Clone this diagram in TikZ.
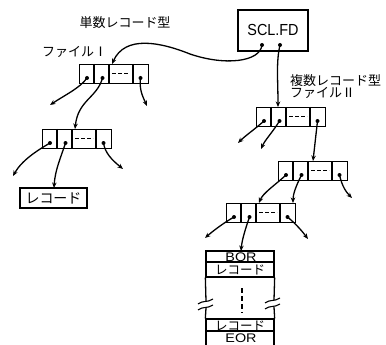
\documentclass[tikz,border=0pt]{standalone}
\usepackage{fontspec}
\newfontfamily\jp{Noto Sans CJK JP}
\newfontfamily\lat{Liberation Sans}
\usetikzlibrary{arrows.meta,calc}
\tikzset{
  lab/.style={font=\jp\fontsize{13}{13}\selectfont, inner sep=0},
  rectext/.style={font=\jp\fontsize{14}{14}\selectfont, inner sep=0},
  stacktext/.style={font=\jp\fontsize{12.5}{12.5}\selectfont, inner sep=0},
  con/.style={-{Stealth[length=5.5pt,width=4.5pt]}, line width=1.3pt},
  dotn/.style={circle, fill, inner sep=0, minimum size=4pt},
  cellbox/.style={draw, line width=1.4pt, inner sep=0, minimum width=69pt, minimum height=19pt, anchor=north west},
  rowbox/.style={draw, line width=1.3pt, inner sep=0, minimum width=68pt},
  recbox/.pic={
    \node[cellbox] (-box) at (0,0) {};
    \draw[line width=1.3pt] (15,0)--(15,19) (30,0)--(30,19) (54,0)--(54,19);
    \draw[line width=1.1pt, dash pattern=on 3.5pt off 2.5pt] (33,9.5)--(51,9.5);
    \node[dotn] (-d1) at (8,14) {};
    \node[dotn] (-d2) at (23.5,14) {};
    \node[dotn] (-d4) at (61.5,14) {};
  }
}
\begin{document}
\begin{tikzpicture}[x=1pt,y=-1pt]
\useasboundingbox (0,0) rectangle (386,345);
\clip (0,0) rectangle (386,345);

% labels
\node[lab] (t1) at (125,23) {単数レコード型};
\node[lab, anchor=west] (t2) at (42,52) {ファイルⅠ};
\node[lab, anchor=west] (t3) at (290,81) {複数レコード型};
\node[lab, anchor=west] (t4) at (290,93) {ファイルⅡ};

% SCL.FD
\node[draw, line width=1.4pt, minimum width=70pt, minimum height=41pt, inner sep=0] (S) at (273,30.5) {};
\node[inner sep=0, font=\lat\fontsize{16}{16}\selectfont] (St) at (273,30) {\scalebox{0.9}[1]{SCL.FD}};
\node[dotn] (Sd1) at (262,45) {};
\node[dotn] (Sd2) at (280,45) {};

% record boxes
\pic (A) at (79,64) {recbox};
\pic (B) at (42,129) {recbox};
\pic (C) at (256,107) {recbox};
\pic (D) at (278,161) {recbox};
\pic (E) at (226,203) {recbox};

% single record
\node[draw, line width=1.4pt, minimum width=67pt, minimum height=20pt, inner sep=0, rectext] (R) at (53.5,198) {レコード};

% stack
\node[rowbox, minimum height=11pt] (bor) at (240,256.5) {};
\node[inner sep=0, font=\lat\fontsize{12.5}{12.5}\selectfont] at (241,257) {\scalebox{1.15}[1]{BOR}};
\node[rowbox, minimum height=15pt] (r1) at (240,269.5) {};
\node[stacktext] at (240,270) {レコード};
\node[rowbox, minimum height=12pt] (r2) at (240,325) {};
\node[stacktext] at (240,325.5) {レコード};
\node[rowbox, minimum height=21pt] (eor) at (240,341.5) {};
\node[inner sep=0, font=\lat\fontsize{12.5}{12.5}\selectfont] at (241,338.5) {\scalebox{1.15}[1]{EOR}};
\draw[line width=1.3pt] (r1.south west) -- (206,301) (206,308) -- (r2.north west);
\draw[line width=1.3pt] (r1.south east) -- (274,300) (274,307) -- (r2.north east);
\draw[line width=1.1pt] (198,304) .. controls (203,300) and (207,303) .. (213,299);
\draw[line width=1.1pt] (198,310) .. controls (203,306) and (207,309) .. (213,305);
\draw[line width=1.1pt] (265,303) .. controls (270,299) and (274,302) .. (280,298);
\draw[line width=1.1pt] (265,309) .. controls (270,305) and (274,308) .. (280,304);
\draw[line width=1.3pt, dash pattern=on 5pt off 3pt] (242,288) -- (242,313);

% free ends
\coordinate (eA1) at (50,105);
\coordinate (eA4) at (147,106);
\coordinate (eB1) at (13,176);
\coordinate (eB4) at (123,169);
\coordinate (eC1) at (238,143);
\coordinate (eC2) at (261,149);
\coordinate (eD4) at (352,198);
\coordinate (eE1) at (205,238);
\coordinate (eE4) at (308,239);
\coordinate (inA) at (112,64);
\coordinate (inB) at (75,129);
\coordinate (inC) at (278,107);
\coordinate (inD) at (313,161);
\coordinate (inE1) at (259,203);
\coordinate (inE2) at (293,203);
\coordinate (inR) at (54,188);
\coordinate (inS) at (241,251);

% connectors
\draw[con] (Sd1.center) .. controls (260,62) and (225,66) .. (190,54) .. controls (160,42) and (125,35) .. (inA);
\draw[con] (Sd2.center) .. controls (276,62) and (278,80) .. (inC);
\draw[con] (A-d1.center) .. controls (80,88) and (65,95) .. (eA1);
\draw[con] (A-d2.center) .. controls (97,98) and (78,100) .. (inB);
\draw[con] (A-d4.center) .. controls (139,90) and (143,97) .. (eA4);
\draw[con] (B-d1.center) .. controls (38,150) and (22,160) .. (eB1);
\draw[con] (B-d2.center) .. controls (61,157) and (55,170) .. (inR);
\draw[con] (B-d4.center) .. controls (105,153) and (112,160) .. (eB4);
\draw[con] (C-d1.center) .. controls (255,129) and (245,136) .. (eC1);
\draw[con] (C-d2.center) .. controls (272,133) and (265,140) .. (eC2);
\draw[con] (C-d4.center) -- (inD);
\draw[con] (D-d1.center) .. controls (274,186) and (263,193) .. (inE1);
\draw[con] (D-d2.center) .. controls (296,186) and (293,194) .. (inE2);
\draw[con] (D-d4.center) .. controls (342,186) and (346,192) .. (eD4);
\draw[con] (E-d1.center) .. controls (222,224) and (213,231) .. (eE1);
\draw[con] (E-d2.center) .. controls (245,230) and (242,240) .. (inS);
\draw[con] (E-d4.center) .. controls (296,224) and (302,231) .. (eE4);
\end{tikzpicture}
\end{document}
